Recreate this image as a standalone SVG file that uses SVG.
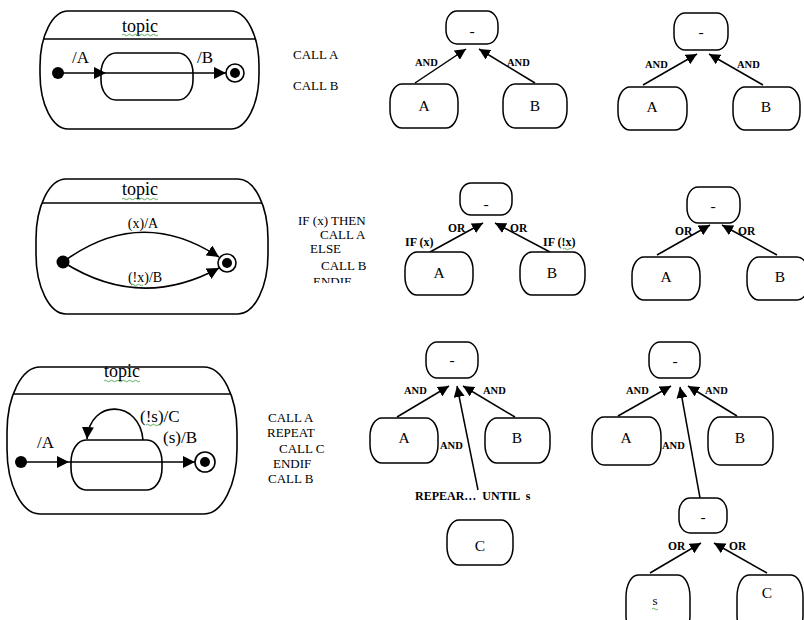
<svg xmlns="http://www.w3.org/2000/svg" width="804" height="620" viewBox="0 0 804 620">
  <style>
    .bg { fill: #ffffff; }
    .frame { fill: #ffffff; stroke: #000; stroke-width: 1.6; }
    .state { fill: none; stroke: #000; stroke-width: 1.6; }
    .node { fill: #ffffff; stroke: #000; stroke-width: 1.5; }
    .rule { stroke: #000; stroke-width: 1.6; }
    .tr { fill: none; stroke: #000; stroke-width: 1.6; marker-end: url(#bigHead); }
    .link { fill: none; stroke: #000; stroke-width: 1.5; marker-end: url(#head); }
    .squiggle { fill: none; stroke: #3a9a3a; stroke-width: 0.8; }
    text { font-family: "Liberation Serif", "Times New Roman", serif; fill: #000; }
    .title { font-size: 18px; text-anchor: middle; }
    .trl { font-size: 17px; }
    .trs { font-size: 14px; }
    .code { font-size: 13px; }
    .lbl { font-size: 15.5px; text-anchor: middle; }
    .and { font-size: 10.5px; font-weight: bold; }
    .or { font-size: 11.5px; font-weight: bold; }
    .cond { font-size: 12px; font-weight: bold; }
  </style>
  <defs>
    <marker id="head" markerUnits="userSpaceOnUse" markerWidth="11" markerHeight="11" refX="11" refY="5.5" orient="auto">
      <path d="M0,0 L11,5.5 L0,11 z" fill="#000"/>
    </marker>
    <marker id="bigHead" markerUnits="userSpaceOnUse" markerWidth="12" markerHeight="12" refX="12" refY="6" orient="auto">
      <path d="M0,0 L12,6 L0,12 z" fill="#000"/>
    </marker>
    <clipPath id="cutEndif">
      <rect x="280" y="260" width="100" height="23"/>
    </clipPath>
  </defs>

  <rect class="bg" x="0" y="0" width="804" height="620"/>

  <!-- ===== Row 1: sequence ===== -->
  <g id="sc1">
    <rect class="frame" x="40" y="11" width="219" height="118" rx="28" ry="55"/>
    <line class="rule" x1="43" y1="39" x2="256" y2="39"/>
    <text class="title" x="140" y="32">topic</text>
    <path class="squiggle" d="M122,35 q1.5,-1.5 3,0 t3,0 t3,0 t3,0 t3,0 t3,0 t3,0 t3,0 t3,0 t3,0 t3,0 t3,0"/>
    <rect class="state" x="101" y="53" width="92" height="47" rx="15" ry="20"/>
    <circle cx="58" cy="73" r="6"/>
    <circle cx="235" cy="73" r="9" fill="#fff" stroke="#000" stroke-width="1.6"/>
    <circle cx="235" cy="73" r="5"/>
    <line class="tr" x1="58" y1="73" x2="106" y2="73"/>
    <line class="tr" x1="106" y1="73" x2="226" y2="73"/>
    <text class="trl" x="72" y="63">/A</text>
    <text class="trl" x="197" y="63">/B</text>
  </g>
  <g id="code1">
    <text class="code" x="293" y="59">CALL  A</text>
    <text class="code" x="293" y="90">CALL  B</text>
  </g>

  <g id="tree1-connectors">
    <line class="link" x1="415" y1="83" x2="466" y2="49"/>
    <line class="link" x1="535" y1="83" x2="479" y2="49"/>
    <text class="and" x="415" y="66">AND</text>
    <text class="and" x="507" y="66">AND</text>
  </g>
  <g id="tree1-root"><rect class="node" x="446" y="11" width="52" height="33" rx="11" ry="14"/><text class="lbl" x="472" y="36">-</text></g>
  <g id="tree1-a"><rect class="node" x="390" y="84" width="68" height="44" rx="12" ry="18"/><text class="lbl" x="424" y="111">A</text></g>
  <g id="tree1-b"><rect class="node" x="503" y="84" width="64" height="44" rx="12" ry="18"/><text class="lbl" x="535" y="111">B</text></g>

  <g id="tree2-connectors">
    <line class="link" x1="643" y1="85" x2="697" y2="54"/>
    <line class="link" x1="763" y1="85" x2="709" y2="54"/>
    <text class="and" x="645" y="68">AND</text>
    <text class="and" x="737" y="68">AND</text>
  </g>
  <g id="tree2-root"><rect class="node" x="674" y="13" width="54" height="37" rx="11" ry="15"/><text class="lbl" x="701" y="37">-</text></g>
  <g id="tree2-a"><rect class="node" x="618" y="87" width="69" height="43" rx="12" ry="18"/><text class="lbl" x="652" y="112">A</text></g>
  <g id="tree2-b"><rect class="node" x="733" y="87" width="67" height="43" rx="12" ry="18"/><text class="lbl" x="766" y="112">B</text></g>

  <!-- ===== Row 2: selection ===== -->
  <g id="sc2">
    <rect class="frame" x="36" y="179" width="232" height="135" rx="30" ry="60"/>
    <line class="rule" x1="42" y1="203" x2="262" y2="203"/>
    <text class="title" x="140" y="195">topic</text>
    <path class="squiggle" d="M122,199 q1.5,-1.5 3,0 t3,0 t3,0 t3,0 t3,0 t3,0 t3,0 t3,0 t3,0 t3,0 t3,0 t3,0"/>
    <circle cx="63" cy="262" r="6.5"/>
    <circle cx="227" cy="263" r="9" fill="#fff" stroke="#000" stroke-width="1.6"/>
    <circle cx="227" cy="263" r="5"/>
    <path class="tr" d="M63,262 Q140,205 219,257"/>
    <path class="tr" d="M63,262 Q140,311 219,268"/>
    <text class="trs" x="143" y="228" text-anchor="middle">(x)/A</text>
    <text class="trs" x="145" y="282" text-anchor="middle">(!x)/B</text>
    <path class="squiggle" d="M131,285 q1.5,-1.5 3,0 t3,0 t3,0 t3,0"/>
  </g>
  <g id="code2">
    <text class="code" x="298" y="225">IF (x) THEN</text>
    <text class="code" x="320" y="239">CALL A</text>
    <text class="code" x="310" y="253">ELSE</text>
    <text class="code" x="321" y="270">CALL B</text>
    <text class="code" x="313" y="286" clip-path="url(#cutEndif)">ENDIF</text>
  </g>

  <g id="tree3-connectors">
    <line class="link" x1="430" y1="252" x2="483" y2="223"/>
    <line class="link" x1="550" y1="252" x2="495" y2="223"/>
    <text class="or" x="448" y="232">OR</text>
    <text class="or" x="510" y="232">OR</text>
    <text class="cond" x="405" y="246">IF (x)</text>
    <text class="cond" x="543" y="246">IF (!x)</text>
    <path class="squiggle" d="M563,249 q1.5,-1.5 3,0 t3,0 t3,0"/>
  </g>
  <g id="tree3-root"><rect class="node" x="460" y="183" width="52" height="32" rx="11" ry="13"/><text class="lbl" x="486" y="209">-</text></g>
  <g id="tree3-a"><rect class="node" x="405" y="252" width="68" height="43" rx="12" ry="18"/><text class="lbl" x="439" y="278">A</text></g>
  <g id="tree3-b"><rect class="node" x="520" y="252" width="65" height="43" rx="12" ry="18"/><text class="lbl" x="552" y="278">B</text></g>

  <g id="tree4-connectors">
    <line class="link" x1="657" y1="255" x2="710" y2="225"/>
    <line class="link" x1="777" y1="255" x2="722" y2="225"/>
    <text class="or" x="675" y="235" font-weight="normal">OR</text>
    <text class="or" x="738" y="235" font-weight="normal">OR</text>
  </g>
  <g id="tree4-root"><rect class="node" x="687" y="187" width="53" height="36" rx="11" ry="15"/><text class="lbl" x="713" y="211">-</text></g>
  <g id="tree4-a"><rect class="node" x="632" y="257" width="68" height="43" rx="12" ry="18"/><text class="lbl" x="666" y="282">A</text></g>
  <g id="tree4-b"><rect class="node" x="747" y="257" width="62" height="43" rx="12" ry="18"/><text class="lbl" x="780" y="282">B</text></g>

  <!-- ===== Row 3: repetition ===== -->
  <g id="sc3">
    <rect class="frame" x="7" y="367" width="230" height="147" rx="33" ry="65"/>
    <line class="rule" x1="13" y1="394" x2="231" y2="394"/>
    <text class="title" x="122" y="377">topic</text>
    <path class="squiggle" d="M104,381 q1.5,-1.5 3,0 t3,0 t3,0 t3,0 t3,0 t3,0 t3,0 t3,0 t3,0 t3,0 t3,0 t3,0"/>
    <rect class="state" x="71" y="440" width="91" height="50" rx="15" ry="22"/>
    <circle cx="21" cy="462" r="6"/>
    <circle cx="205" cy="462" r="10" fill="#fff" stroke="#000" stroke-width="1.6"/>
    <circle cx="205" cy="462" r="5"/>
    <line class="tr" x1="21" y1="462" x2="69" y2="462"/>
    <line class="tr" x1="69" y1="462" x2="195" y2="462"/>
    <path class="tr" d="M143,440 C140,400 90,398 87,439"/>
    <text class="trl" x="37" y="448">/A</text>
    <text class="trl" x="140" y="422">(!s)/C</text>
    <path class="squiggle" d="M146,425 q1.5,-1.5 3,0 t3,0 t3,0 t3,0 t3,0"/>
    <text class="trl" x="163" y="443">(s)/B</text>
  </g>
  <g id="code3">
    <text class="code" x="268" y="422">CALL  A</text>
    <text class="code" x="267" y="437">REPEAT</text>
    <text class="code" x="279" y="453">CALL C</text>
    <text class="code" x="273" y="468">ENDIF</text>
    <text class="code" x="268" y="483">CALL  B</text>
  </g>

  <g id="tree5-connectors">
    <line class="link" x1="397" y1="417" x2="449" y2="386"/>
    <line class="link" x1="515" y1="417" x2="463" y2="386"/>
    <line class="link" x1="478" y1="490" x2="457" y2="386"/>
    <text class="and" x="404" y="394">AND</text>
    <text class="and" x="483" y="394">AND</text>
    <text class="and" x="440" y="449">AND</text>
    <text class="cond" x="415" y="500" xml:space="preserve">REPEAR…  UNTIL  s</text>
  </g>
  <g id="tree5-root"><rect class="node" x="426" y="342" width="52" height="36" rx="11" ry="15"/><text class="lbl" x="452" y="365">-</text></g>
  <g id="tree5-a"><rect class="node" x="370" y="418" width="68" height="45" rx="12" ry="18"/><text class="lbl" x="404" y="443">A</text></g>
  <g id="tree5-b"><rect class="node" x="485" y="418" width="65" height="45" rx="12" ry="18"/><text class="lbl" x="517" y="443">B</text></g>
  <g id="tree5-c"><rect class="node" x="447" y="520" width="66" height="45" rx="12" ry="18"/><text class="lbl" x="480" y="551">C</text></g>

  <g id="tree6-connectors">
    <line class="link" x1="618" y1="416" x2="671" y2="386"/>
    <line class="link" x1="737" y1="416" x2="688" y2="386"/>
    <line class="link" x1="700" y1="498" x2="680" y2="387"/>
    <line class="link" x1="650" y1="573" x2="701" y2="543"/>
    <line class="link" x1="767" y1="573" x2="714" y2="543"/>
    <text class="and" x="626" y="394">AND</text>
    <text class="and" x="705" y="394">AND</text>
    <text class="and" x="662" y="449">AND</text>
    <text class="or" x="668" y="550" font-weight="normal">OR</text>
    <text class="or" x="729" y="550" font-weight="normal">OR</text>
  </g>
  <g id="tree6-root"><rect class="node" x="649" y="342" width="51" height="36" rx="11" ry="15"/><text class="lbl" x="675" y="366">-</text></g>
  <g id="tree6-a"><rect class="node" x="592" y="417" width="69" height="48" rx="12" ry="19"/><text class="lbl" x="626" y="443">A</text></g>
  <g id="tree6-b"><rect class="node" x="708" y="417" width="65" height="48" rx="12" ry="19"/><text class="lbl" x="740" y="443">B</text></g>
  <g id="tree6-or"><rect class="node" x="679" y="498" width="48" height="35" rx="11" ry="14"/><text class="lbl" x="703" y="522">-</text></g>
  <g id="tree6-s">
    <rect class="node" x="626" y="575" width="64" height="62" rx="12" ry="22"/>
    <text x="655" y="605" font-size="13" text-anchor="middle">s</text>
    <path class="squiggle" d="M652,609 q1.5,-1.5 3,0 t3,0"/>
  </g>
  <g id="tree6-c"><rect class="node" x="737" y="575" width="66" height="62" rx="12" ry="22"/><text class="lbl" x="767" y="598">C</text></g>
</svg>
